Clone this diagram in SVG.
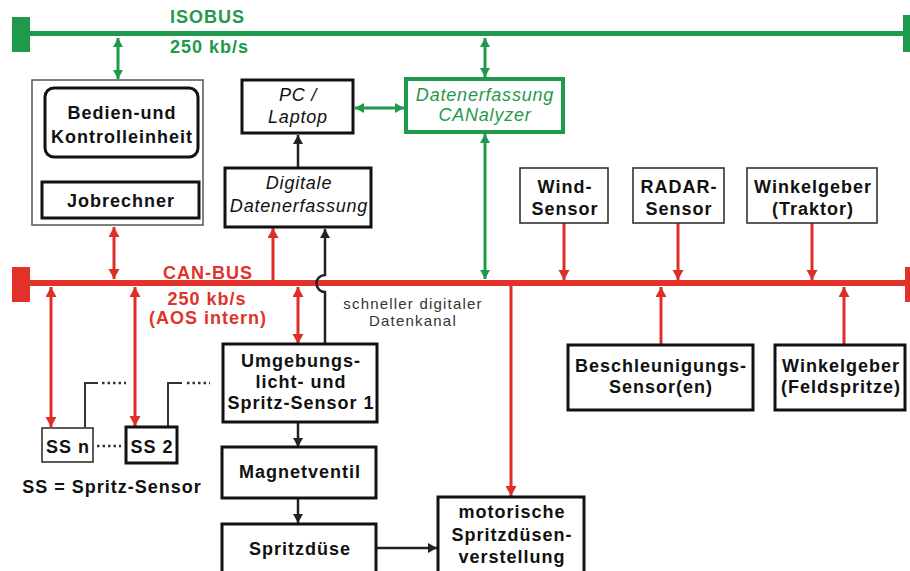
<svg xmlns="http://www.w3.org/2000/svg" width="910" height="571" viewBox="0 0 910 571">
<style>
.b{font-family:"Liberation Sans",Arial,sans-serif;font-weight:bold;font-size:18px;letter-spacing:1px;fill:#111;text-anchor:middle}
.i{font-family:"Liberation Sans",Arial,sans-serif;font-style:italic;font-size:18px;letter-spacing:0.8px;fill:#111;text-anchor:middle}
.n{font-family:"Liberation Sans",Arial,sans-serif;font-size:15px;letter-spacing:1.2px;fill:#333;text-anchor:middle}
.g{fill:#1f9a4b}
.r{fill:#e2322a}
.box{fill:#fff;stroke:#111;stroke-width:3}
.thin{fill:#fff;stroke:#333;stroke-width:1.6}
.gl{stroke:#1f9a4b;stroke-width:3;fill:none}
.rl{stroke:#dd2f28;stroke-width:3;fill:none}
.kl{stroke:#222;stroke-width:2.5;fill:none}
</style>
<defs>
<marker id="ag" markerUnits="userSpaceOnUse" markerWidth="11" markerHeight="11" refX="9" refY="5" orient="auto-start-reverse"><path d="M0,0 L9,5 L0,10 z" fill="#1f9a4b"/></marker>
<marker id="ar" markerUnits="userSpaceOnUse" markerWidth="12" markerHeight="12" refX="10" refY="5.5" orient="auto-start-reverse"><path d="M0,0 L10,5.5 L0,11 z" fill="#dd2f28"/></marker>
<marker id="ak" markerUnits="userSpaceOnUse" markerWidth="11" markerHeight="11" refX="9" refY="5" orient="auto-start-reverse"><path d="M0,0 L9,5 L0,10 z" fill="#222"/></marker>
</defs>
<rect width="910" height="571" fill="#fff"/>

<g id="isobus">
<rect x="12" y="17" width="18" height="35" fill="#1f9a4b"/>
<rect x="903" y="15" width="7" height="37" fill="#1f9a4b"/>
<rect x="30" y="31" width="873" height="5" fill="#1f9a4b"/>
<text x="170" y="23" class="b g" style="text-anchor:start">ISOBUS</text>
<text x="170" y="53" class="b g" style="text-anchor:start">250 kb/s</text>
</g>

<g id="canbus">
<rect x="12" y="267" width="18" height="35" fill="#e2322a"/>
<rect x="905" y="267" width="5" height="35" fill="#e2322a"/>
<rect x="30" y="280" width="875" height="6" fill="#e2322a"/>
<text x="163" y="279" class="b r" style="text-anchor:start">CAN-BUS</text>
<text x="207" y="305" class="b r">250 kb/s</text>
<text x="208" y="324" class="b r">(AOS intern)</text>
</g>

<g id="connectors">
<line x1="118" y1="38" x2="118" y2="79" class="gl" marker-start="url(#ag)" marker-end="url(#ag)"/>
<line x1="485" y1="38" x2="485" y2="77" class="gl" marker-start="url(#ag)" marker-end="url(#ag)"/>
<line x1="485" y1="134" x2="485" y2="279" class="gl" marker-start="url(#ag)" marker-end="url(#ag)"/>
<line x1="355" y1="108" x2="404" y2="108" class="gl" marker-start="url(#ag)" marker-end="url(#ag)"/>
<line x1="73" y1="182" x2="73" y2="158" class="kl" marker-end="url(#ak)"/>
<line x1="162" y1="158" x2="162" y2="182" class="kl" marker-end="url(#ak)"/>
<line x1="298" y1="168" x2="298" y2="135" class="kl" marker-end="url(#ak)"/>
<line x1="114" y1="227" x2="114" y2="279" class="rl" marker-start="url(#ar)" marker-end="url(#ar)"/>
<line x1="273" y1="280" x2="273" y2="228" class="rl" marker-end="url(#ar)"/>
<line x1="298" y1="287" x2="298" y2="344" class="rl" marker-start="url(#ar)" marker-end="url(#ar)"/>
<path d="M325,344 L325,292 A8.5,8.5 0 0 1 325,275 L325,229" class="kl" marker-end="url(#ak)"/>
<line x1="51" y1="287" x2="51" y2="427" class="rl" marker-start="url(#ar)" marker-end="url(#ar)"/>
<line x1="135" y1="287" x2="135" y2="426" class="rl" marker-start="url(#ar)" marker-end="url(#ar)"/>
<line x1="511" y1="286" x2="511" y2="496" class="rl" marker-end="url(#ar)"/>
<line x1="564" y1="223" x2="564" y2="280" class="rl" marker-end="url(#ar)"/>
<line x1="678" y1="223" x2="678" y2="280" class="rl" marker-end="url(#ar)"/>
<line x1="812" y1="223" x2="812" y2="280" class="rl" marker-end="url(#ar)"/>
<line x1="661" y1="345" x2="661" y2="287" class="rl" marker-end="url(#ar)"/>
<line x1="844" y1="345" x2="844" y2="287" class="rl" marker-end="url(#ar)"/>
<line x1="298" y1="422" x2="298" y2="447" class="kl" marker-end="url(#ak)"/>
<line x1="298" y1="498" x2="298" y2="523" class="kl" marker-end="url(#ak)"/>
<line x1="377" y1="548" x2="437" y2="548" class="kl" marker-end="url(#ak)"/>
<path d="M85,427 L85,383 L98,383" stroke="#333" stroke-width="2" fill="none"/>
<path d="M168,427 L168,383 L182,383" stroke="#333" stroke-width="2" fill="none"/>
<line x1="102" y1="383" x2="126" y2="383" stroke="#333" stroke-width="2.5" stroke-dasharray="2.5,3"/>
<line x1="187" y1="383" x2="210" y2="383" stroke="#333" stroke-width="2.5" stroke-dasharray="2.5,3"/>
<line x1="97" y1="446" x2="121" y2="446" stroke="#333" stroke-width="2.5" stroke-dasharray="2.5,3"/>
</g>

<g id="bedien-gruppe">
<rect x="32" y="80" width="171" height="145" fill="#fff" stroke="#555" stroke-width="1.5"/>
</g>
<g id="bedien">
<rect x="45" y="88" width="153" height="69" rx="9" class="box"/>
<text x="122" y="119" class="b">Bedien-und</text>
<text x="122" y="143" class="b">Kontrolleinheit</text>
</g>
<g id="jobrechner">
<rect x="42" y="182" width="157" height="36" class="box"/>
<text x="121" y="207" class="b">Jobrechner</text>
</g>
<g id="pc">
<rect x="242" y="80" width="111" height="53" class="box"/>
<text x="298" y="101" class="i">PC /</text>
<text x="298" y="123" class="i">Laptop</text>
</g>
<g id="digitale">
<rect x="225" y="168" width="146" height="59" class="box" stroke-width="2.5"/>
<text x="299" y="189" class="i">Digitale</text>
<text x="299" y="212" class="i">Datenerfassung</text>
</g>
<g id="canalyzer">
<rect x="406" y="79" width="157" height="53" fill="#fff" stroke="#1f9a4b" stroke-width="4"/>
<text x="485" y="101" class="i g">Datenerfassung</text>
<text x="485" y="121" class="i g">CANalyzer</text>
</g>
<g id="wind">
<rect x="520" y="168" width="88" height="55" class="thin"/>
<text x="565" y="193" class="b">Wind-</text>
<text x="565" y="215" class="b">Sensor</text>
</g>
<g id="radar">
<rect x="633" y="168" width="91" height="55" class="thin"/>
<text x="679" y="193" class="b">RADAR-</text>
<text x="679" y="215" class="b">Sensor</text>
</g>
<g id="winkel-traktor">
<rect x="747" y="168" width="130" height="55" class="thin"/>
<text x="813" y="193" class="b">Winkelgeber</text>
<text x="813" y="215" class="b">(Traktor)</text>
</g>
<g id="beschleunigung">
<rect x="568" y="345" width="185" height="65" class="box"/>
<text x="661" y="372" class="b">Beschleunigungs-</text>
<text x="661" y="393" class="b">Sensor(en)</text>
</g>
<g id="winkel-feldspritze">
<rect x="775" y="345" width="130" height="65" class="box"/>
<text x="841" y="372" class="b">Winkelgeber</text>
<text x="841" y="393" class="b">(Feldspritze)</text>
</g>
<g id="umgebung">
<rect x="223" y="344" width="154" height="78" class="box" stroke-width="3.5"/>
<text x="301" y="367" class="b">Umgebungs-</text>
<text x="301" y="388" class="b">licht- und</text>
<text x="301" y="409" class="b">Spritz-Sensor 1</text>
</g>
<g id="magnetventil">
<rect x="222" y="447" width="154" height="51" class="box" stroke-width="3.5"/>
<text x="300" y="478" class="b">Magnetventil</text>
</g>
<g id="spritzduese">
<rect x="222" y="524" width="154" height="60" class="box" stroke-width="3.5"/>
<text x="300" y="555" class="b">Spritzdüse</text>
</g>
<g id="motorisch">
<rect x="438" y="497" width="146" height="90" class="box" stroke-width="3.5"/>
<text x="512" y="518" class="b">motorische</text>
<text x="512" y="541" class="b">Spritzdüsen-</text>
<text x="512" y="563" class="b">verstellung</text>
</g>
<g id="ss-n">
<rect x="42" y="428" width="51" height="34" class="thin"/>
<text x="68" y="453" class="b">SS n</text>
</g>
<g id="ss-2">
<rect x="126" y="427" width="51" height="36" class="box" stroke-width="2.5"/>
<text x="152" y="453" class="b">SS 2</text>
</g>
<g id="labels">
<text x="112" y="493" class="b">SS = Spritz-Sensor</text>
<text x="413" y="309" class="n">schneller digitaler</text>
<text x="413" y="326" class="n">Datenkanal</text>
</g>
</svg>
